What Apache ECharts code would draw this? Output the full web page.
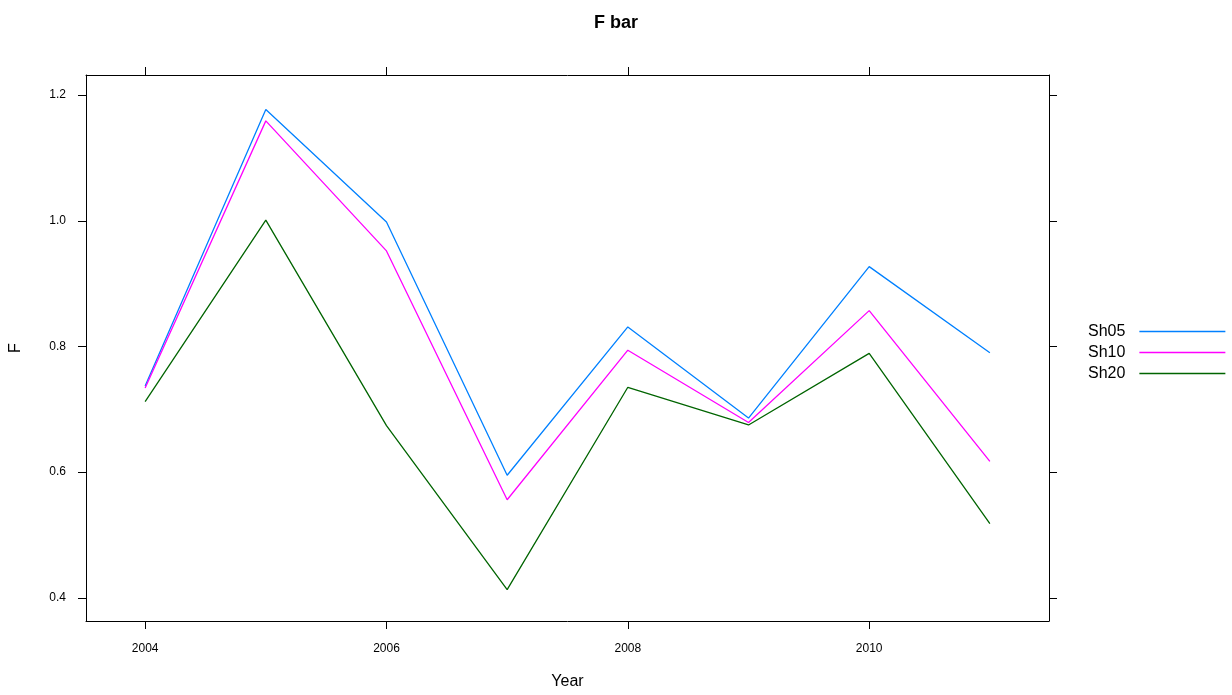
<!DOCTYPE html>
<html>
<head>
<meta charset="utf-8">
<script src="https://cdn.jsdelivr.net/npm/echarts@6/dist/echarts.min.js"></script>
<style>html,body{margin:0;padding:0;background:#fff}#c{width:1232px;height:695px}</style>
</head>
<body>
<div id="c"></div>
<script>
const years = [2004, 2005, 2006, 2007, 2008, 2009, 2010, 2011];
const sh05 = [0.737, 1.177, 0.998, 0.595, 0.831, 0.686, 0.927, 0.790];
const sh10 = [0.734, 1.159, 0.952, 0.556, 0.794, 0.679, 0.857, 0.617];
const sh20 = [0.712, 1.001, 0.674, 0.413, 0.735, 0.675, 0.789, 0.518];
const seriesNames = ['Sh05', 'Sh10', 'Sh20'];
const xTicks = [2004, 2006, 2008, 2010];
const yTicks = [0.4, 0.6, 0.8, 1.0, 1.2];

const colors = ['#0080ff', '#ff00ff', '#006400'];
const font = 'Liberation Sans, Arial, sans-serif';
const xMin = 2003.51, xMax = 2011.49, yMin = 0.363, yMax = 1.232;

function pairs(vals) { return years.map((y, i) => [y, vals[i]]); }

const lineAx = { show: true, lineStyle: { color: '#000', width: 1 } };

const option = {
  animation: false,
  backgroundColor: '#fff',
  title: {
    text: 'F bar', left: 'center', top: 9,
    textStyle: { fontFamily: font, fontSize: 18, fontWeight: 'bold', color: '#000' }
  },
  legend: {
    orient: 'vertical', left: 1083, top: 318, align: 'right',
    itemWidth: 86, itemHeight: 1.5, itemGap: 4, icon: 'rect',
    textStyle: { fontFamily: font, fontSize: 16, color: '#000', lineHeight: 17, padding: [0, 9, 0, 0] },
    data: seriesNames
  },
  grid: { left: 86, right: 183, top: 75, bottom: 74, containLabel: false, outerBoundsMode: 'none' },
  xAxis: [
    {
      type: 'value', position: 'bottom', min: xMin, max: xMax,
      name: 'Year', nameLocation: 'middle', nameGap: 53,
      nameTextStyle: { fontFamily: font, fontSize: 16, color: '#000' },
      axisLine: lineAx,
      axisTick: { show: true, inside: false, length: 8, lineStyle: { color: '#000' }, customValues: xTicks },
      axisLabel: { show: true, margin: 22, fontFamily: font, fontSize: 12, color: '#000', customValues: xTicks, formatter: v => String(v) },
      splitLine: { show: false }
    },
    {
      type: 'value', position: 'top', min: xMin, max: xMax,
      axisLine: lineAx,
      axisTick: { show: true, inside: false, length: 8, lineStyle: { color: '#000' }, customValues: xTicks },
      axisLabel: { show: false },
      splitLine: { show: false }
    }
  ],
  yAxis: [
    {
      type: 'value', position: 'left', min: yMin, max: yMax,
      name: 'F', nameLocation: 'middle', nameGap: 62, nameRotate: 90,
      nameTextStyle: { fontFamily: font, fontSize: 16, color: '#000' },
      axisLine: lineAx,
      axisTick: { show: true, inside: false, length: 8, lineStyle: { color: '#000' }, customValues: yTicks },
      axisLabel: { show: true, margin: 20, fontFamily: font, fontSize: 12, color: '#000', customValues: yTicks, formatter: v => v.toFixed(1) },
      splitLine: { show: false }
    },
    {
      type: 'value', position: 'right', min: yMin, max: yMax,
      axisLine: lineAx,
      axisTick: { show: true, inside: false, length: 8, lineStyle: { color: '#000' }, customValues: yTicks },
      axisLabel: { show: false },
      splitLine: { show: false }
    }
  ],
  series: [sh05, sh10, sh20].map((vals, i) => ({
    name: seriesNames[i], type: 'line', xAxisIndex: 0, yAxisIndex: 0,
    data: pairs(vals), showSymbol: false, symbol: 'none',
    lineStyle: { color: colors[i], width: 1.3 },
    itemStyle: { color: colors[i] }
  }))
};

const chart = echarts.init(document.getElementById('c'), null, { renderer: 'canvas' });
chart.setOption(option);
</script>
</body>
</html>
